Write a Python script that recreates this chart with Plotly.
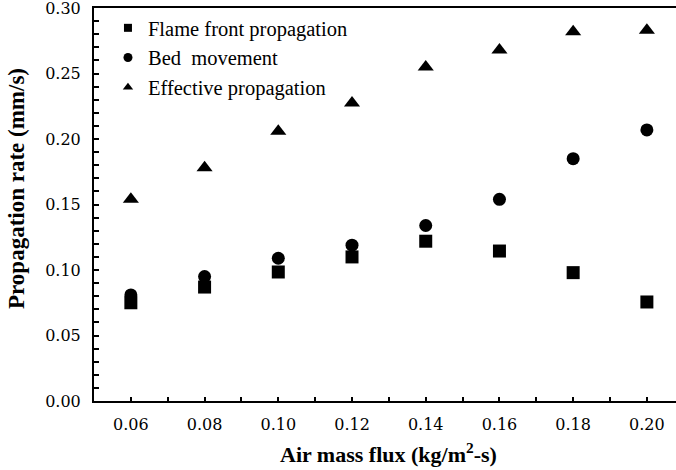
import plotly.graph_objects as go

air_mass_flux = [0.06, 0.08, 0.10, 0.12, 0.14, 0.16, 0.18, 0.20]
flame_front = [0.075, 0.087, 0.0985, 0.110, 0.122, 0.1145, 0.098, 0.0756]
bed_movement = [0.081, 0.095, 0.109, 0.119, 0.134, 0.154, 0.185, 0.207]
effective = [0.154, 0.178, 0.206, 0.2275, 0.255, 0.268, 0.282, 0.283]
y_ticks = [0.00, 0.05, 0.10, 0.15, 0.20, 0.25, 0.30]

series = [
    ("Flame front propagation", flame_front, "square", 13, 8),
    ("Bed  movement", bed_movement, "circle", 13, 9),
    ("Effective propagation", effective, "triangle-up", 14, 9),
]

SERIF = "Liberation Serif"
TICKF = "DejaVu Serif"
fig = go.Figure()
for name, vals, sym, size, lsize in series:
    fig.add_trace(go.Scatter(x=air_mass_flux, y=vals, mode="markers", name=name,
                             marker=dict(symbol=sym, size=size, color="black"),
                             showlegend=False))
for name, vals, sym, size, lsize in series:
    fig.add_trace(go.Scatter(x=[None], y=[None], mode="markers", name=name,
                             marker=dict(symbol=sym, size=lsize, color="black"),
                             showlegend=True))

fig.update_layout(
    width=676, height=470,
    margin=dict(l=94, r=0, t=8, b=69),
    paper_bgcolor="white", plot_bgcolor="white",
    font=dict(family=SERIF, color="black"),
    legend=dict(x=0.024, y=1.0, xanchor="left", yanchor="top",
                font=dict(family=SERIF, size=20.5, color="black"),
                bgcolor="rgba(0,0,0,0)", itemwidth=30, tracegroupgap=0),
    xaxis=dict(range=[0.05, 0.2079], tickvals=air_mass_flux,
               ticktext=[f"{v:.2f}" for v in air_mass_flux],
               ticks="inside", ticklen=4, tickwidth=1.5, tickcolor="black",
               minor=dict(dtick=0.01, tick0=0.05, ticks="inside", ticklen=4, tickwidth=1.5, tickcolor="black"),
               showline=True, linewidth=2, linecolor="black", mirror=True,
               showgrid=False, zeroline=False,
               tickfont=dict(family=TICKF, size=16),
               ticklabelstandoff=8, ticklabeloverflow="allow"),
    yaxis=dict(range=[0, 0.30005], tickvals=y_ticks,
               ticktext=[f"{v:.2f}" for v in y_ticks],
               ticks="inside", ticklen=5, tickwidth=1.5, tickcolor="black",
               minor=dict(dtick=0.01, tick0=0, ticks="inside", ticklen=5, tickwidth=1.5, tickcolor="black"),
               showline=True, linewidth=2, linecolor="black",
               showgrid=False, zeroline=False,
               tickfont=dict(family=TICKF, size=16),
               ticklabelstandoff=8, ticklabeloverflow="allow"),
    annotations=[
        dict(text="<b>Air mass flux (kg/m<sup>2</sup>-s)</b>", xref="paper", yref="paper",
             x=(388 - 94) / 582, y=-(453 - 401) / 393, xanchor="center", yanchor="middle",
             showarrow=False, font=dict(family=SERIF, size=22, color="black")),
        dict(text="<b>Propagation rate (mm/s)</b>", xref="paper", yref="paper",
             x=-(94 - 17) / 582, y=(401 - 189) / 393, xanchor="center", yanchor="middle",
             textangle=-90, showarrow=False, font=dict(family=SERIF, size=23, color="black")),
    ],
)

fig.write_html("out.html")
